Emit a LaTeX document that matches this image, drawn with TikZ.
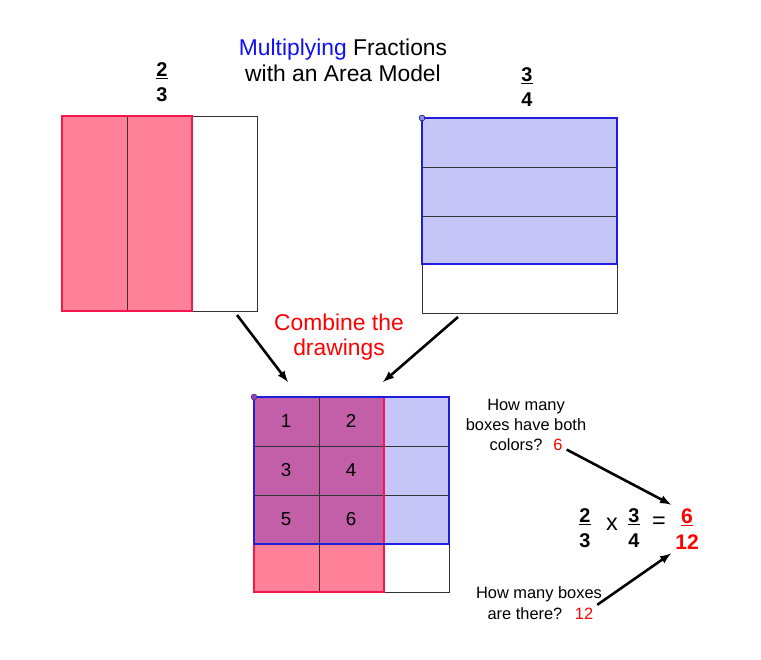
\documentclass[tikz,border=0pt]{standalone}
\usepackage{fontspec}
\setmainfont{Liberation Sans}
\usetikzlibrary{arrows}
\usepackage{xcolor}
\definecolor{pinkfill}{HTML}{FF8099}
\definecolor{redline}{HTML}{F5174B}
\definecolor{bluefill}{HTML}{C5C5F7}
\definecolor{blueline}{HTML}{1E1EDC}
\definecolor{overlap}{HTML}{C25FA8}
\definecolor{titleblue}{HTML}{1010F0}
\newcommand{\FracBox}[2]{\underline{#1}\\#2}

\begin{document}
\begin{tikzpicture}[x=0.03cm,y=-0.03cm,
  gridline/.style={draw=black!80,line width=0.6pt},
  redbox/.style={draw=redline,line width=1.5pt},
  bluebox/.style={draw=blueline,line width=1.5pt},
  frac/.style={align=center,font=\bfseries\fontsize{17}{21}\selectfont},
  question/.style={align=center,font=\fontsize{14}{17}\selectfont},
  bigtext/.style={align=center,font=\fontsize{19.5}{22}\selectfont},
  pointer/.style={-latex,line width=2.2pt}]
\useasboundingbox (0,0) rectangle (761,659);
% \draw[help lines] (0,0) grid[step=50] (761,659);
\node (title) [bigtext] at (343,60) {\textcolor{titleblue}{Multiplying} Fractions\\with an Area Model};
%
% two thirds
\node (twothirds) [frac] at (162,82) {\FracBox{2}{3}};
\fill[pinkfill] (62,116) rectangle (192,311);
\draw[gridline] (62,116) rectangle (257,311);
\draw[gridline] (127,116) -- (127,311);
\draw[redbox] (62,116) rectangle (192,311);
%
% three quarters
\node (threequarters) [frac] at (527,87) {\FracBox{3}{4}};
\fill[bluefill] (422,118) rectangle (617,264);
\draw[gridline] (422,118) rectangle (617,313);
\draw[gridline] (422,167) -- (617,167) (422,216) -- (617,216);
\draw[bluebox] (422,118) rectangle (617,264);
\filldraw[fill=blueline!50,draw=blueline!60!black,line width=0.5pt] (422,118) circle (2.5pt);
%
\node (combine) [bigtext,text=red] at (339,337) {Combine the\\drawings};
\coordinate (lfrom) at (237,315);
\coordinate (lto) at (288,382);
\coordinate (rfrom) at (458,317);
\coordinate (rto) at (383,382);
\path[pointer] (lfrom) edge (lto);
\path[pointer] (rfrom) edge (rto);
%
% combined model
\fill[bluefill] (254,397) rectangle (449,544);
\fill[pinkfill] (254,397) rectangle (384,592);
\fill[overlap] (254,397) rectangle (384,544);
\draw[gridline] (254,397) rectangle (449,592);
\foreach \x in {319,384} \draw[gridline] (\x,397) -- (\x,592);
\foreach \y in {446,495,544} \draw[gridline] (254,\y) -- (449,\y);
\draw[redbox] (254,397) rectangle (384,592);
\draw[bluebox] (254,397) rectangle (449,544);
\filldraw[fill=overlap!70!blue,draw=overlap!50!black,line width=0.5pt] (254,397) circle (2.5pt);
\foreach \n/\x/\y in {1/286/421,2/351/421,3/286/470,4/351/470,5/286/519,6/351/519}
  \node (cell\n) [font=\fontsize{16}{18}\selectfont] at (\x,\y) {\n};
%
% the product
\node (fa) [frac] at (585,528) {\FracBox{2}{3}};
\node (times) [font=\fontsize{20}{22}\selectfont] at (612,524) {x};
\node (fb) [frac] at (634,528) {\FracBox{3}{4}};
\node (equals) [font=\fontsize{20}{22}\selectfont] at (659,523) {=};
\node (res) [frac,text=red,font=\bfseries\fontsize{18}{22}\selectfont] at (687,529) {\FracBox{6}{12}};
%
\node (qboth) [question] at (526,415) {How many\\boxes have both};
\node (qcolors) [question] at (516,445) {colors?};
\node (nboth) [question,text=red] at (558,445) {6};
\node (qall) [question] at (539,594) {How many boxes};
\node (qthere) [question] at (525,614) {are there?};
\node (nall) [question,text=red] at (584,614) {12};
\path[pointer] (nboth) edge (res.north west);
\path[pointer] (nall) edge (res.south west);
\end{tikzpicture}
\end{document}
